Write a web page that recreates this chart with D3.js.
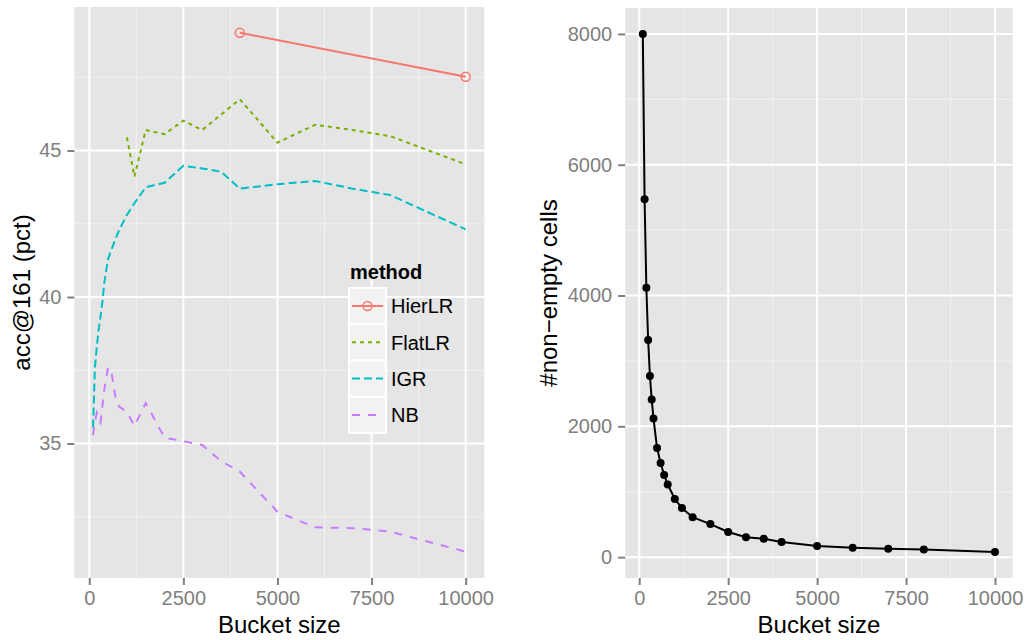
<!DOCTYPE html>
<html>
<head>
<meta charset="utf-8">
<script src="https://cdn.jsdelivr.net/npm/d3@7"></script>
<style>
  body { margin: 0; background: #fff; }
  svg text { font-family: "Liberation Sans", Arial, Helvetica, sans-serif; }
</style>
</head>
<body>
<div id="chart"></div>
<script>
// left panel: accuracy per method
var methods = ["HierLR", "FlatLR", "IGR", "NB"];
var hierBuckets = [4000, 10000];
var hierAcc = [49.02, 47.52];
var flatBuckets = [1000, 1200, 1500, 2000, 2500, 3000, 4000, 5000, 6000, 7000, 8000, 10000];
var flatAcc = [45.45, 44.11, 45.70, 45.56, 46.02, 45.70, 46.75, 45.27, 45.88, 45.70, 45.49, 44.53];
var bucketSizes = [100, 150, 200, 250, 300, 350, 400, 500, 600, 700, 800, 1000, 1200, 1500, 2000, 2500, 3000, 3500, 4000, 5000, 6000, 7000, 8000, 10000];
var igrAcc = [35.55, 37.6, 38.3, 38.9, 39.35, 39.85, 40.5, 41.3, 41.65, 42.0, 42.3, 42.8, 43.2, 43.75, 43.9, 44.48, 44.39, 44.28, 43.7, 43.85, 43.96, 43.7, 43.48, 42.31];
var nbAcc = [35.29, 35.75, 36.05, 35.85, 35.72, 36.3, 36.85, 37.6, 37.35, 36.55, 36.25, 36.08, 35.6, 36.38, 35.2, 35.08, 34.95, 34.4, 34.04, 32.67, 32.14, 32.11, 31.99, 31.31];

// right panel: number of non-empty cells
var nonEmptyCells = [8000, 5470, 4120, 3320, 2770, 2410, 2120, 1670, 1440, 1255, 1110, 890, 750, 610, 505, 385, 305, 280, 230, 170, 145, 130, 115, 80];

var xTicks = [0, 2500, 5000, 7500, 10000];
var xMinor = [1250, 3750, 6250, 8750];
var accTicks = [35, 40, 45];
var accMinor = [32.5, 37.5, 42.5, 47.5];
var cellTicks = [0, 2000, 4000, 6000, 8000];
var cellMinor = [1000, 3000, 5000, 7000];

var colors = ["#F8766D", "#7CAE00", "#00BFC4", "#C77CFF"];
var dashes = [null, "4,4", "8,4", "8,8"];

var W = 1027, H = 640;
var svg = d3.select("#chart").append("svg").attr("width", W).attr("height", H);

function panel(x, y, xt, xm, yt, ym, xlab, ylab, ylabX) {
    var x0 = x.range()[0], x1 = x.range()[1], y0 = y.range()[0], y1 = y.range()[1];
    var g = svg.append("g");
    g.append("rect").attr("x", x0).attr("y", y1).attr("width", x1 - x0).attr("height", y0 - y1).attr("fill", "#E5E5E5");
    g.selectAll(".xmin").data(xm).enter().append("line")
        .attr("x1", d => x(d)).attr("x2", d => x(d)).attr("y1", y0).attr("y2", y1)
        .attr("stroke", "#F2F2F2").attr("stroke-width", 1);
    g.selectAll(".ymin").data(ym).enter().append("line")
        .attr("y1", d => y(d)).attr("y2", d => y(d)).attr("x1", x0).attr("x2", x1)
        .attr("stroke", "#F2F2F2").attr("stroke-width", 1);
    g.selectAll(".xmaj").data(xt).enter().append("line")
        .attr("x1", d => x(d)).attr("x2", d => x(d)).attr("y1", y0).attr("y2", y1)
        .attr("stroke", "#fff").attr("stroke-width", 2);
    g.selectAll(".ymaj").data(yt).enter().append("line")
        .attr("y1", d => y(d)).attr("y2", d => y(d)).attr("x1", x0).attr("x2", x1)
        .attr("stroke", "#fff").attr("stroke-width", 2);

    var xAxis = d3.axisBottom(x).tickValues(xt).tickSize(7).tickPadding(6).tickFormat(d3.format("d"));
    var ax = g.append("g").attr("transform", "translate(0," + y0 + ")").call(xAxis);
    var yAxis = d3.axisLeft(y).tickValues(yt).tickSize(7).tickPadding(6).tickFormat(d3.format("d"));
    var ay = g.append("g").attr("transform", "translate(" + x0 + ",0)").call(yAxis);
    [ax, ay].forEach(function(a) {
        a.select(".domain").remove();
        a.selectAll(".tick line").attr("stroke", "#7F7F7F").attr("stroke-width", 2);
        a.selectAll(".tick text").attr("fill", "#7F7F7F").style("font-size", "20px");
    });

    g.append("text").attr("x", (x0 + x1) / 2).attr("y", 633).attr("text-anchor", "middle")
        .style("font-size", "24px").text(xlab);
    g.append("text").attr("transform", "translate(" + ylabX + "," + (y0 + y1) / 2 + ") rotate(-90)")
        .attr("text-anchor", "middle").style("font-size", "24px").text(ylab);
    return g;
}

// left panel
var xL = d3.scaleLinear().domain([-395, 10495]).range([74.4, 484.3]);
var yL = d3.scaleLinear().domain([30.41, 49.9]).range([578, 7]);
var gL = panel(xL, yL, xTicks, xMinor, accTicks, accMinor, "Bucket size", "acc@161 (pct)", 30);

var series = [
    { name: "HierLR", xs: hierBuckets, ys: hierAcc },
    { name: "FlatLR", xs: flatBuckets, ys: flatAcc },
    { name: "IGR", xs: bucketSizes, ys: igrAcc },
    { name: "NB", xs: bucketSizes, ys: nbAcc }
];
var lineL = d3.line().x(d => xL(d[0])).y(d => yL(d[1]));
series.forEach(function(s, i) {
    var pts = s.xs.map((v, k) => [v, s.ys[k]]);
    gL.append("path").datum(pts).attr("d", lineL).attr("fill", "none")
        .attr("stroke", colors[i]).attr("stroke-width", 2)
        .attr("stroke-dasharray", dashes[i]);
    if (i === 0) {
        gL.selectAll(".hpt").data(pts).enter().append("circle")
            .attr("cx", d => xL(d[0])).attr("cy", d => yL(d[1])).attr("r", 4.5)
            .attr("fill", "none").attr("stroke", colors[0]).attr("stroke-width", 1.5);
    }
});

// legend
var leg = svg.append("g").attr("transform", "translate(349,0)");
leg.append("text").attr("x", 1).attr("y", 279).style("font-size", "20px").style("font-weight", "bold").text("method");
methods.forEach(function(m, i) {
    var ky = 288 + i * 36.3;
    leg.append("rect").attr("x", 0).attr("y", ky).attr("width", 37).attr("height", 36)
        .attr("fill", "#F2F2F2").attr("stroke", "#fff").attr("stroke-width", 2);
    leg.append("line").attr("x1", 3).attr("x2", 34).attr("y1", ky + 18).attr("y2", ky + 18)
        .attr("stroke", colors[i]).attr("stroke-width", 2).attr("stroke-dasharray", dashes[i]);
    if (i === 0) {
        leg.append("circle").attr("cx", 18.5).attr("cy", ky + 18).attr("r", 4.5)
            .attr("fill", "none").attr("stroke", colors[0]).attr("stroke-width", 1.5);
    }
    leg.append("text").attr("x", 42).attr("y", ky + 18).attr("dy", "0.36em")
        .style("font-size", "20px").text(m);
});

// right panel
var xR = d3.scaleLinear().domain([-395, 10495]).range([625.2, 1012.6]);
var yR = d3.scaleLinear().domain([-319, 8396]).range([578, 8]);
var gR = panel(xR, yR, xTicks, xMinor, cellTicks, cellMinor, "Bucket size", "#non\u2212empty cells", 557);

var cellPts = bucketSizes.map((v, k) => [v, nonEmptyCells[k]]);
gR.append("path").datum(cellPts)
    .attr("d", d3.line().x(d => xR(d[0])).y(d => yR(d[1])))
    .attr("fill", "none").attr("stroke", "#000").attr("stroke-width", 2);
gR.selectAll(".cpt").data(cellPts).enter().append("circle")
    .attr("cx", d => xR(d[0])).attr("cy", d => yR(d[1])).attr("r", 4).attr("fill", "#000");
</script>
</body>
</html>
